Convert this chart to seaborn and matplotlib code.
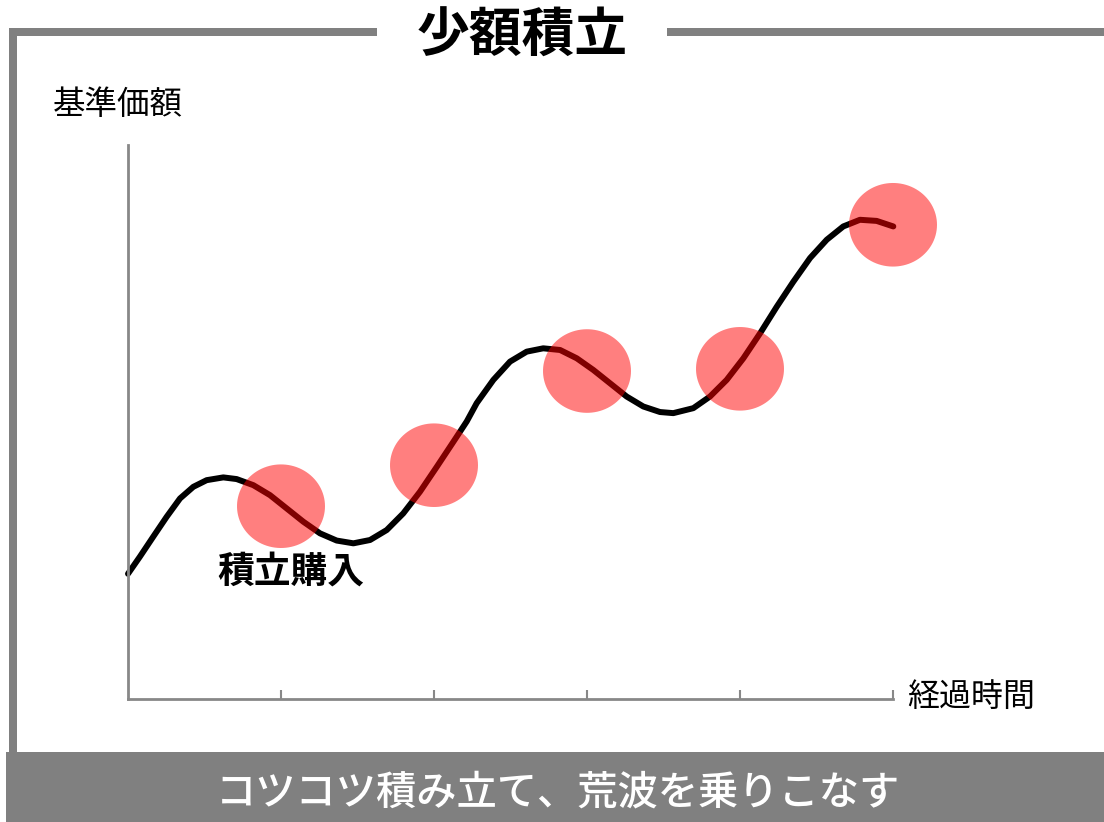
import numpy as np
import matplotlib
matplotlib.use('Agg')
import matplotlib.pyplot as plt
from matplotlib.patches import Rectangle
from matplotlib.path import Path
import seaborn as sns

# price curve (x: elapsed time, y: NAV, arbitrary units)
curve_x = [0.000, 0.078, 0.165, 0.253, 0.340, 0.427, 0.514, 0.623, 0.710, 0.819,
           0.928, 1.037, 1.146, 1.255, 1.364, 1.473, 1.582, 1.691, 1.799, 1.908,
           2.018, 2.126, 2.214, 2.279, 2.388, 2.497, 2.606, 2.714, 2.824, 2.933,
           3.041, 3.150, 3.259, 3.368, 3.477, 3.564, 3.695, 3.804, 3.913, 4.022,
           4.131, 4.240, 4.348, 4.458, 4.567, 4.675, 4.784, 4.893, 5.002]
curve_y = [22.6, 25.7, 29.3, 32.9, 36.2, 38.3, 39.5, 40.0, 39.7, 38.6,
           36.8, 34.4, 32.0, 29.9, 28.6, 28.1, 28.7, 30.5, 33.5, 37.4,
           41.9, 46.4, 50.1, 53.4, 57.6, 60.9, 62.7, 63.3, 63.0, 61.5,
           59.4, 57.0, 54.6, 52.8, 51.8, 51.6, 52.5, 54.6, 57.6, 61.5,
           66.0, 70.8, 75.3, 79.6, 82.9, 85.3, 86.5, 86.3, 85.3]

# monthly purchase points (red circles)
buy_x = [1, 2, 3, 4, 5]
buy_y = [34.8, 42.2, 59.2, 59.6, 85.6]

tick_pos = [1, 2, 3, 4, 5]

title = '少額積立'
ylabel = '基準価額'
xlabel = '経過時間'
buy_label = '積立購入'
banner = 'コツコツ積み立て、荒波を乗りこなす'

sns.set_theme(style='white')
plt.rcParams['font.family'] = ['Noto Sans CJK JP', 'DejaVu Sans']
plt.rcParams['text.color'] = 'black'

W, H = 1104, 822
fig = plt.figure(figsize=(W / 100, H / 100), dpi=100)
fig.patch.set_facecolor('white')

gray = '#808080'


def px_rect(x0, y0, x1, y1, color=gray):
    # rectangle given in pixel coords measured from top-left
    fig.add_artist(Rectangle((x0 / W, 1 - y1 / H), (x1 - x0) / W, (y1 - y0) / H,
                             transform=fig.transFigure, color=color, lw=0))


# frame around the chart
px_rect(9, 28, 377, 36)
px_rect(667, 28, 1104, 36)
px_rect(9, 28, 17, 752)
px_rect(6, 752, 1104, 822)

ax = fig.add_axes([128 / W, 1 - 699 / H, 765 / W, 554 / H])
ax.set_facecolor('none')

sns.lineplot(x=curve_x, y=curve_y, ax=ax, color='black', lw=4.3, sort=False,
             solid_capstyle='round', solid_joinstyle='round', clip_on=False, zorder=2)

# slightly flattened circle marker
t = np.linspace(0, 2 * np.pi, 100)
ell = Path(np.column_stack([np.cos(t), 0.95 * np.sin(t)]), closed=True)
sns.scatterplot(x=buy_x, y=buy_y, ax=ax, marker=ell, s=(88 * 0.72) ** 2,
                color='red', alpha=0.5, edgecolor='none', linewidth=0,
                clip_on=False, zorder=3)

ax.set_xlim(0, 5)
ax.set_ylim(0, 100)
ax.spines['top'].set_visible(False)
ax.spines['right'].set_visible(False)
for s in ['left', 'bottom']:
    ax.spines[s].set_color('#888888')
    ax.spines[s].set_linewidth(2)
ax.set_xticks(tick_pos)
ax.set_xticklabels([])
ax.set_yticks([])
ax.tick_params(axis='x', direction='in', length=6.5, width=1.5, color='#888888', bottom=True)

fig.text(522 / W, 1 - 36 / H, title, ha='center', va='center', fontsize=38,
         fontweight='bold', color='black')
fig.text(118 / W, 1 - 105 / H, ylabel, ha='center', va='center', fontsize=23.4, color='black')
fig.text(971 / W, 1 - 697 / H, xlabel, ha='center', va='center', fontsize=23, color='black')
fig.text(291 / W, 1 - 572 / H, buy_label, ha='center', va='center', fontsize=26.5,
         fontweight='bold', color='black')
fig.text(558 / W, 1 - 793 / H, banner, ha='center', va='center', fontsize=29,
         color='white', fontweight='medium')

plt.savefig('out.png', dpi=100)
